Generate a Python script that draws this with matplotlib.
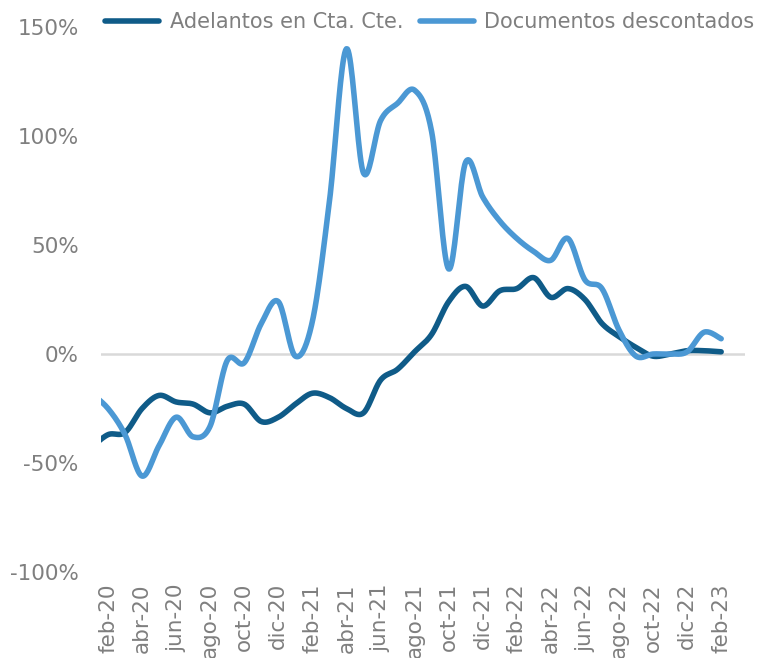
import numpy as np
import matplotlib
matplotlib.use("Agg")
import matplotlib.pyplot as plt
from matplotlib.ticker import FuncFormatter

# monthly series, jan-20 .. feb-23 (%)
months = ["ene-20", "feb-20", "mar-20", "abr-20", "may-20", "jun-20", "jul-20", "ago-20",
          "sep-20", "oct-20", "nov-20", "dic-20", "ene-21", "feb-21", "mar-21", "abr-21",
          "may-21", "jun-21", "jul-21", "ago-21", "sep-21", "oct-21", "nov-21", "dic-21",
          "ene-22", "feb-22", "mar-22", "abr-22", "may-22", "jun-22", "jul-22", "ago-22",
          "sep-22", "oct-22", "nov-22", "dic-22", "ene-23", "feb-23"]

adelantos = [-43, -37, -36, -25, -19, -22, -23, -27, -24, -23, -31, -29, -23, -18, -20, -25,
             -27, -12, -7, 1, 9, 24, 31, 22, 29, 30, 35, 26, 30, 25, 14, 8,
             3, -1, 0, 1.5, 1.5, 1]

documentos = [-18, -25, -37, -56, -42, -29, -38, -33, -3, -4, 14, 24, -1, 15, 70, 140,
              83, 107, 115, 121, 102, 39, 88, 72, 61, 53, 47, 43, 53, 34, 30, 11,
              -1, 0, 0, 1, 10, 7]

tick_labels = ["feb-20", "abr-20", "jun-20", "ago-20", "oct-20", "dic-20", "feb-21",
               "abr-21", "jun-21", "ago-21", "oct-21", "dic-21", "feb-22", "abr-22",
               "jun-22", "ago-22", "oct-22", "dic-22", "feb-23"]

DARK = "#0f5b88"
LIGHT = "#4b98d4"
GREY = "#7f7f7f"


def smooth(x, y, n=20):
    # Catmull-Rom, close to the spreadsheet "smoothed line" look
    x = np.asarray(x, float)
    y = np.asarray(y, float)
    px = np.concatenate([[x[0]], x, [x[-1]]])
    py = np.concatenate([[y[0]], y, [y[-1]]])
    t = np.linspace(0, 1, n, endpoint=False)[:, None]
    out_x, out_y = [], []
    for i in range(1, len(px) - 2):
        for arr, out in ((px, out_x), (py, out_y)):
            p0, p1, p2, p3 = arr[i - 1], arr[i], arr[i + 1], arr[i + 2]
            v = 0.5 * (2 * p1 + (-p0 + p2) * t + (2 * p0 - 5 * p1 + 4 * p2 - p3) * t ** 2
                       + (-p0 + 3 * p1 - 3 * p2 + p3) * t ** 3)
            out.extend(v.ravel())
    out_x.append(x[-1])
    out_y.append(y[-1])
    return np.array(out_x), np.array(out_y)


plt.rcParams["font.family"] = "DejaVu Sans"
plt.rcParams["font.size"] = 15.5

fig = plt.figure(figsize=(7.73, 6.58), dpi=100)
ax = fig.add_axes([0.1307, 0.1307, 0.8331, 0.8283])

x = np.arange(len(months)) - 1  # feb-20 at 0
ax.axhline(0, color="#d9d9d9", lw=1.8, zorder=1)

sx, sy = smooth(x, adelantos)
ax.plot(sx, sy, color=DARK, lw=4, solid_capstyle="round", label="Adelantos en Cta. Cte.", zorder=2)
sx, sy = smooth(x, documentos)
ax.plot(sx, sy, color=LIGHT, lw=4, solid_capstyle="round", label="Documentos descontados", zorder=3)

ax.set_xlim(-0.41, 37.4)
ax.set_ylim(-100, 150)
ax.set_yticks(np.arange(-100, 151, 50))
ax.yaxis.set_major_formatter(FuncFormatter(lambda v, p: f"{v:.0f}%"))
ax.set_xticks(np.arange(0, 37, 2))
ax.set_xticklabels(tick_labels, rotation=90)
ax.tick_params(axis="both", length=0, colors=GREY, labelsize=15.5)
ax.tick_params(axis="y", pad=16)
ax.tick_params(axis="x", pad=8)
for s in ax.spines.values():
    s.set_visible(False)

leg = fig.legend(loc="center left", bbox_to_anchor=(0.125, 1 - 22 / 658), ncol=2,
                 frameon=False, handlelength=2.6, handletextpad=0.5, columnspacing=0.8,
                 borderaxespad=0, fontsize=15)
for t in leg.get_texts():
    t.set_color(GREY)

fig.savefig("out.png", dpi=100)
